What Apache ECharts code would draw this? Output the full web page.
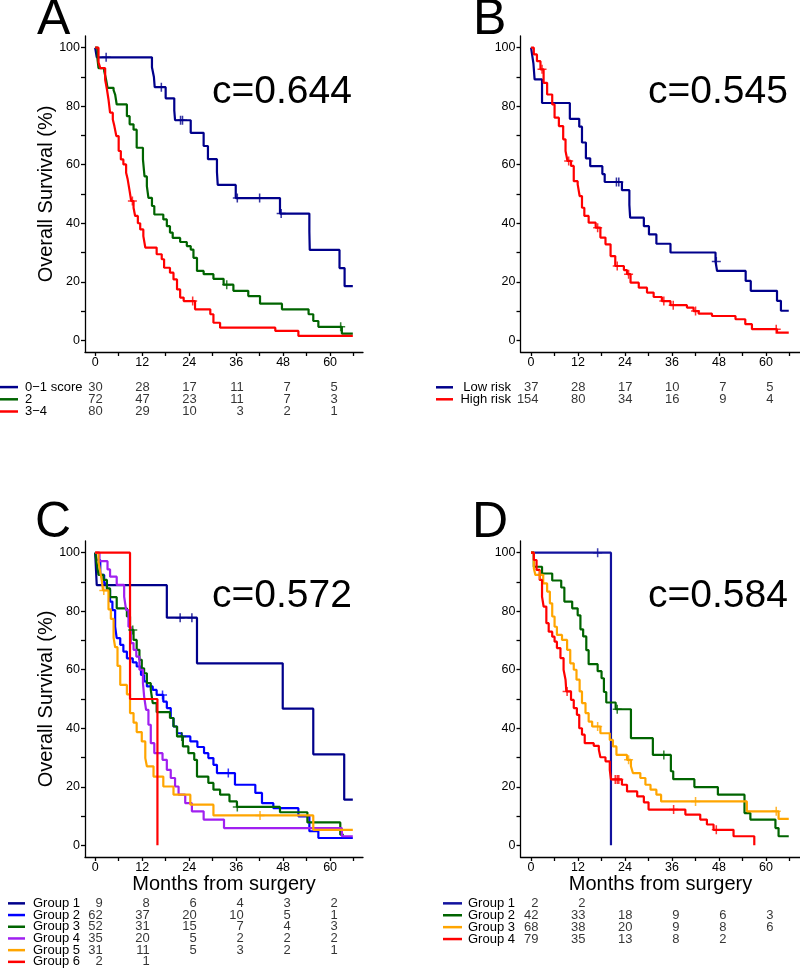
<!DOCTYPE html>
<html><head><meta charset="utf-8">
<script src="https://cdn.jsdelivr.net/npm/echarts@6/dist/echarts.min.js"></script>
<style>html,body{margin:0;padding:0;background:#fff}#c{width:800px;height:969px}</style>
</head><body><div id="c"></div>
<script>
// ---------- axis ticks ----------
const X_TICKS = [0,6,12,18,24,30,36,42,48,54,60,66];
const X_LABELS = [0,12,24,36,48,60];
const Y_TICKS = [0,10,20,30,40,50,60,70,80,90,100];
const Y_LABELS = [0,20,40,60,80,100];
const RISK_TIMES = [0,12,24,36,48,60];

// ---------- Panel A ----------
const A_groups = ['0\u22121 score','2','3\u22124'];
const A_risk = [[30,28,17,11,7,5],[72,47,23,11,7,3],[80,29,10,3,2,1]];
const A_g1 = [[0,100],[0.4,96.7],[14.5,93.3],[15.0,90],[15.2,86.5],[18.0,82.7],[20.2,78.6],[20.4,75.2],[24.4,70.9],[27.7,66.4],[28.8,61.9],[31.1,57.5],[31.3,53.1],[35.9,48.6],[47.2,43.3],[54.7,37.1],[54.8,30.9],[62.4,24.7],[63.7,18.5],[65.8,18.5]];
const A_g1_cens = [2.8,16.9,21.8,22.3,36.3,42.0,47.5];
const A_g2 = [[0,100],[0.6,96],[0.85,93],[2.3,92],[2.8,89],[3.15,86.3],[4.7,85.5],[5.1,84],[5.5,80.6],[8.1,76.6],[8.8,73.8],[9.8,72],[10.6,65.8],[12.2,61.8],[12.6,56],[13.2,52.7],[13.6,48.7],[14.5,45.9],[15.1,43],[17.4,41.3],[18.3,39],[19.1,36.8],[19.8,35],[21.7,33.6],[23.4,32.2],[24.4,31],[25.1,28.2],[26.0,23.7],[27.7,22.6],[30.2,21],[32.8,19],[35.3,16.9],[39.1,15.1],[42.1,12.5],[47.7,10.6],[54.5,8.9],[55.7,6.6],[57.0,4.6],[63.0,2.3],[65.8,2.3]];
const A_g2_cens = [33.6,62.7];
const A_g3 = [[0,100],[0.85,95],[1.3,93],[2.55,89],[3.0,85.8],[3.4,82.3],[3.8,77.8],[4.5,75.5],[4.9,73.2],[5.4,69.8],[6.0,64.7],[6.55,61.8],[7.2,60.1],[7.9,57.3],[8.3,55],[8.8,51],[9.2,47.6],[9.8,45.3],[10.2,42.5],[10.9,40],[11.5,37.9],[12.3,35.6],[12.8,31.7],[15.7,29.4],[17.0,27.7],[17.6,24.8],[19.1,23.1],[20.0,20.8],[20.9,17.4],[21.7,14.6],[22.6,13.4],[25.5,10.6],[29.4,8.9],[30.2,6.0],[31.9,4.3],[46.0,3.2],[51.9,1.5],[65.8,1.5]];
const A_g3_cens = [9.5,24.9];

// ---------- Panel B ----------
const B_groups = ['Low risk','High risk'];
const B_risk = [[37,28,17,10,7,5],[154,80,34,16,9,4]];
const B_low = [[0,100],[0.3,97.3],[0.6,94.6],[0.9,89.2],[2.8,81.1],[9.9,75.7],[12.3,73],[13.0,67.6],[14.0,62.2],[15.1,59.5],[18.2,56.8],[18.8,54.1],[23.2,51.3],[25.1,46.3],[25.3,41.9],[28.8,39],[30.1,36.2],[32.0,33.0],[35.6,30.0],[47.1,26.9],[47.5,23.7],[54.8,20.3],[56.1,16.9],[62.8,13.5],[63.8,10.1],[65.8,10.1]];
const B_low_cens = [21.8,22.4,47.3];
const B_high = [[0,100],[0.7,97.7],[1.5,95.4],[2.4,92.6],[3.2,88],[4.1,84],[5.4,80.6],[6.0,76.1],[7.1,73.2],[8.2,68.7],[8.8,64.7],[9.3,61.3],[10.2,59.6],[10.9,54.4],[11.9,53.3],[12.4,49.3],[13.0,45.3],[13.6,42.5],[14.7,40.2],[16.5,38.5],[17.7,35.1],[19.0,32.8],[20.3,28.8],[21.5,25.4],[23.7,24.0],[24.5,22.6],[25.4,19.7],[27.5,18],[29.6,16.3],[31.3,14.8],[33.4,13.4],[35.6,12],[39.8,11.2],[41.5,10.0],[42.8,9.1],[46.2,8.3],[52.2,7.2],[54.7,5.5],[56.4,3.8],[62.8,2.6],[65.8,2.6]];
const B_high_cens = [2.8,9.6,17.0,22.0,24.9,33.9,36.3,42.0,62.6];

// ---------- Panel C ----------
const C_groups = ['Group 1','Group 2','Group 3','Group 4','Group 5','Group 6'];
const C_risk = [[9,8,6,4,3,2],[62,37,20,10,5,1],[52,31,15,7,4,3],[35,20,5,2,2,2],[31,11,5,3,2,1],[2,1]];
const C_g1 = [[0,100],[0.4,88.9],[18.3,77.8],[26.0,62.2],[47.9,46.7],[55.7,31.1],[63.6,15.6],[65.8,15.6]];
const C_g1_cens = [21.7,24.7];
const C_g2 = [[0,100],[0.4,97.5],[1.3,92.4],[2.3,89.5],[3.0,87.3],[3.8,83.3],[4.4,80.4],[5.1,74.7],[5.5,70.8],[6.4,68.5],[7.2,66.2],[8.1,63.9],[9.6,62.5],[10.6,61.1],[11.7,58.2],[12.5,56],[13.2,54.3],[14.7,53.1],[15.7,51.4],[17.4,49.1],[18.3,46.9],[19.3,43.5],[20.0,40.6],[20.9,38.3],[22.1,37.2],[24.3,35.5],[26.1,33.6],[27.8,31.5],[28.9,29.8],[30.2,27.5],[31.1,24.7],[35.7,20.7],[40.9,17.9],[42.6,14.4],[45.5,12.7],[51.9,9.9],[54.7,4.8],[57.0,2.5],[65.8,2.5]];
const C_g2_cens = [17.2,34.0];
const C_g3 = [[0,100],[0.4,96.4],[0.85,92.4],[2.1,90.7],[3.0,87.8],[3.8,84.8],[5.5,81],[8.1,78.2],[8.9,73.6],[9.8,70.2],[10.6,66.8],[11.3,63.4],[11.9,60.5],[12.5,58.8],[13.2,55.4],[14.2,53.1],[14.7,48.6],[15.7,45.5],[19.1,43.5],[20.0,40.6],[20.9,37.2],[22.4,33.8],[23.8,31.5],[25.3,29.2],[26.0,23.5],[28.9,21.3],[30.2,19],[31.9,17.3],[34.3,15.0],[36.2,13.1],[47.2,11.3],[54.2,7.8],[62.6,3.6],[63.5,3.6]];
const C_g3_cens = [9.6,22.1,36.3];
const C_g4 = [[0,100],[1.1,97.1],[3.15,94.3],[3.8,91.8],[5.5,89],[7.4,85],[7.9,80.4],[8.5,74.7],[9.1,69.1],[9.8,66.8],[10.5,64.5],[11.3,60],[12.2,55.4],[12.5,50.9],[13.0,46.3],[13.6,41.2],[14.2,34.9],[15.1,31.5],[17.2,29.2],[18.3,25.8],[19.3,23.0],[20.4,20.1],[21.3,17.3],[23.0,14.4],[24.7,11.6],[27.7,8.8],[32.9,5.9],[63.0,3.1],[65.8,3.1]];
const C_g4_cens = [];
const C_g5 = [[0,100],[0.85,96.8],[1.3,93.5],[1.7,90.3],[2.0,87.1],[3.4,80.6],[4.0,77.4],[4.7,71],[5.1,67.7],[5.7,61.3],[6.4,54.8],[8.1,51.6],[8.9,45.2],[9.8,41.9],[10.6,38.7],[11.9,35.5],[12.8,29.8],[13.2,27],[14.9,23.5],[17.4,20.1],[20.0,17.3],[24.3,13.9],[30.2,10.2],[55.7,5.3],[65.8,5.3]];
const C_g5_cens = [2.2,42.1];
const C_g6 = [[0,100],[8.9,50],[15.9,0]];
const C_g6_cens = [];

// ---------- Panel D ----------
const D_groups = ['Group 1','Group 2','Group 3','Group 4'];
const D_risk = [[2,2],[42,33,18,9,6,3],[68,38,20,9,8,6],[79,35,13,8,2]];
const D_g1 = [[0,100],[20.4,0]];
const D_g1_cens = [17.0];
const D_g2 = [[0,100],[0.7,95.2],[2.8,92.9],[5.4,90.5],[7.7,88.1],[8.5,83.3],[10.5,81],[11.9,78.6],[12.6,73.8],[13.3,71.4],[14.1,66.7],[14.7,61.9],[17.0,59.5],[18.0,57.1],[18.6,52.4],[19.2,48.8],[21.6,46.5],[25.5,36.6],[31.1,30.9],[35.7,25.3],[36.3,22.6],[41.7,19.9],[47.7,17.3],[54.5,11.0],[56.0,8.8],[62.4,5.9],[63.2,3.1],[65.8,3.1]];
const D_g2_cens = [22.0,33.9];
const D_g3 = [[0,100],[0.7,94.7],[1.1,92.4],[3.1,89.5],[4.1,86.7],[4.8,82.7],[5.4,78.2],[6.0,74.7],[6.6,71.9],[7.9,70.2],[9.2,66.8],[10.0,62.2],[10.9,60.0],[11.6,56.6],[12.4,52.6],[13.0,48.6],[13.9,45.2],[14.7,42.3],[15.6,40.6],[17.7,38.3],[20.1,36.0],[20.9,33.8],[21.8,30.9],[24.5,29.2],[25.5,27],[26.0,24.7],[27.9,23],[29.2,20.7],[30.5,19.0],[32.0,17.3],[33.2,15.0],[55.1,11.6],[63.2,9.0],[65.8,9.0]];
const D_g3_cens = [2.2,17.0,24.9,42.0,62.6];
const D_g4 = [[0,100],[0.7,97.5],[1.4,94.1],[2.2,90.7],[2.8,85],[3.2,81.6],[3.9,75.9],[4.5,73.0],[5.4,71.3],[6.0,69.6],[6.6,67.4],[7.5,64],[8.3,60],[8.8,56.6],[9.0,52.6],[10.2,49.7],[10.9,46.9],[11.7,44.6],[12.3,40.0],[13.0,37.8],[13.7,34.9],[16.0,34.0],[17.3,32.7],[17.7,30.1],[19.0,28.7],[20.1,25.8],[20.4,22.5],[23.2,20.7],[24.5,18.4],[27.1,16.7],[28.8,14.7],[30.0,12.2],[39.4,10.5],[43.2,8.8],[44.9,7.1],[46.6,5.3],[51.7,3.1],[57.0,0]];
const D_g4_cens = [9.2,21.5,22.0,22.4,36.4,47.3];

// ---------- styling ----------
const FONT = '"Liberation Sans", Arial, sans-serif';
const NAVY = '#00008B', NAVY2 = '#12129E', GREEN = '#006400', RED = '#FF0000', BLUE = '#0000FF', PURPLE = '#A020F0', ORANGE = '#FFA500';
const PLUS = 'path://M-0.17,-1H0.17V-0.17H1V0.17H0.17V1H-0.17V0.17H-1V-0.17H-0.17Z';

const panels = [
  {grid:{left:85,top:36,width:278,height:316}, xr:[-2.6,68.4],
   risk:{top:381,height:36.6,margin:60,align:'left',lineX:[0,18]},
   curves:[[A_g1,A_g1_cens,NAVY],[A_g2,A_g2_cens,GREEN],[A_g3,A_g3_cens,RED]],
   groups:A_groups, riskVals:A_risk, yName:true, xName:false,
   letter:['A',37,20], cval:['c=0.644',212,92]},
  {grid:{left:520.5,top:36,width:280,height:316}, xr:[-2.7,68.8],
   risk:{top:381.3,height:24,margin:9.5,align:'right',lineX:[436,453]},
   curves:[[B_low,B_low_cens,NAVY],[B_high,B_high_cens,RED]],
   groups:B_groups, riskVals:B_risk, yName:false, xName:false,
   letter:['B',473,20], cval:['c=0.545',648,92]},
  {grid:{left:85,top:541,width:278,height:316}, xr:[-2.6,68.4],
   risk:{top:897.5,height:70.2,margin:52,align:'left',lineX:[8,25]},
   curves:[[C_g1,C_g1_cens,NAVY],[C_g2,C_g2_cens,BLUE],[C_g3,C_g3_cens,GREEN],[C_g4,C_g4_cens,PURPLE],[C_g5,C_g5_cens,ORANGE],[C_g6,C_g6_cens,RED]],
   groups:C_groups, riskVals:C_risk, yName:true, xName:true,
   letter:['C',35,523], cval:['c=0.572',212,596]},
  {grid:{left:520.5,top:541,width:280,height:316}, xr:[-2.7,68.8],
   risk:{top:897.4,height:47.6,margin:52.5,align:'left',lineX:[443,462]},
   curves:[[D_g1,D_g1_cens,NAVY2],[D_g2,D_g2_cens,GREEN],[D_g3,D_g3_cens,ORANGE],[D_g4,D_g4_cens,RED]],
   groups:D_groups, riskVals:D_risk, yName:false, xName:true,
   letter:['D',472,523], cval:['c=0.584',648,596]}
];

function survAt(curve, t){ let s = curve[0][1]; for (const p of curve){ if (p[0] <= t) s = p[1]; } return s; }

const grids = [], xAxes = [], yAxes = [], series = [];
const axisLineStyle = {color:'#000', width:1.3};
panels.forEach((p, k) => {
  grids.push(Object.assign({outerBoundsMode:'none', containLabel:false}, p.grid));
  xAxes.push({gridIndex:k, type:'value', min:p.xr[0], max:p.xr[1],
    axisLine:{show:true, onZero:false, lineStyle:axisLineStyle},
    axisTick:{show:true, length:4, customValues:X_TICKS, lineStyle:axisLineStyle},
    axisLabel:{customValues:X_LABELS, color:'#000', fontSize:12.5, fontFamily:FONT, margin:4},
    splitLine:{show:false},
    name: p.xName ? 'Months from surgery' : '', nameLocation:'middle', nameGap:17, nameMoveOverlap:false,
    nameTextStyle:{fontSize:20, color:'#000', fontFamily:FONT}});
  yAxes.push({gridIndex:k, type:'value', min:-4, max:104,
    axisLine:{show:true, onZero:false, lineStyle:axisLineStyle},
    axisTick:{show:true, length:4, customValues:Y_TICKS, lineStyle:axisLineStyle},
    axisLabel:{customValues:Y_LABELS, color:'#000', fontSize:12.5, fontFamily:FONT, margin:5},
    splitLine:{show:false},
    name: p.yName ? 'Overall Survival (%)' : '', nameLocation:'middle', nameGap:29, nameRotate:90, nameMoveOverlap:false,
    nameTextStyle:{fontSize:20, color:'#000', fontFamily:FONT}});
  p.curves.forEach(([data, cens, color]) => {
    series.push({type:'line', xAxisIndex:k, yAxisIndex:k, data:data, step:'end', symbol:'none', showSymbol:false,
      lineStyle:{color:color, width:2.2}, silent:true, animation:false});
  });
  p.curves.forEach(([data, cens, color]) => {
    if (!cens.length) return;
    series.push({type:'scatter', xAxisIndex:k, yAxisIndex:k, data:cens.map(t => [t, survAt(data, t)]),
      symbol:PLUS, symbolSize:9, itemStyle:{color:color}, silent:true, animation:false, z:3});
  });
});
// risk tables
panels.forEach((p, k) => {
  const gi = 4 + k;
  grids.push({outerBoundsMode:'none', containLabel:false, left:p.grid.left, width:p.grid.width, top:p.risk.top, height:p.risk.height});
  xAxes.push({gridIndex:gi, type:'value', min:p.xr[0], max:p.xr[1], show:false});
  yAxes.push({gridIndex:gi, type:'category', data:p.groups, inverse:true,
    axisLine:{show:false}, axisTick:{show:false}, splitLine:{show:false},
    axisLabel:{interval:0, hideOverlap:false, color:'#000', fontSize:13, fontFamily:FONT, margin:p.risk.margin, align:p.risk.align}});
  const pts = [];
  p.riskVals.forEach((row, i) => row.forEach((n, j) => pts.push([RISK_TIMES[j], i, n])));
  series.push({type:'scatter', xAxisIndex:gi, yAxisIndex:gi, data:pts, symbolSize:0.01,
    itemStyle:{color:'rgba(0,0,0,0)'}, silent:true, animation:false,
    label:{show:true, position:'inside', offset:[7.5,0], align:'right', verticalAlign:'middle',
      color:'#000', fontSize:13, fontFamily:FONT, formatter: q => String(q.value[2])}});
});

const chart = echarts.init(document.getElementById('c'), null, {renderer:'canvas'});
chart.setOption({animation:false, backgroundColor:'#fff', grid:grids, xAxis:xAxes, yAxis:yAxes, series:series});

const graphics = [];
panels.forEach((p, k) => {
  graphics.push({type:'text', style:{text:p.letter[0], x:p.letter[1], y:p.letter[2], fill:'#000', fontSize:50, fontFamily:FONT, align:'left', verticalAlign:'middle'}});
  graphics.push({type:'text', style:{text:p.cval[0], x:p.cval[1], y:p.cval[2], fill:'#000', fontSize:39, fontFamily:FONT, align:'left', verticalAlign:'middle'}});
  p.curves.forEach((c, i) => {
    const y = chart.convertToPixel({yAxisIndex:4 + k}, i);
    graphics.push({type:'line', shape:{x1:p.risk.lineX[0], y1:y, x2:p.risk.lineX[1], y2:y}, style:{stroke:c[2], lineWidth:2.5}});
  });
});
chart.setOption({graphic:graphics});
</script></body></html>
